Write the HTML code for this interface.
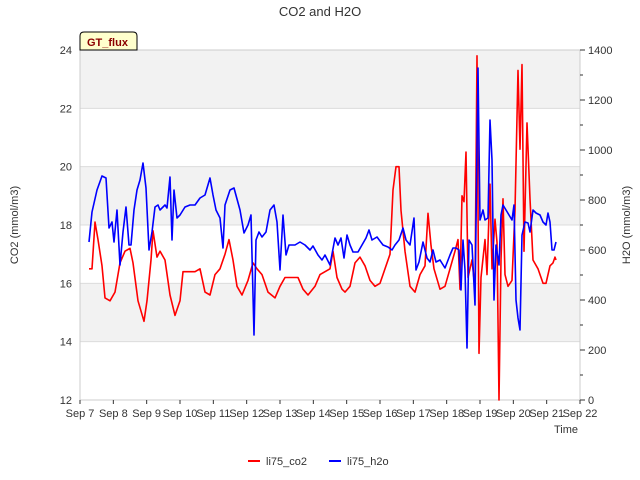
<!DOCTYPE html>
<html><head><meta charset="utf-8"><style>
body{margin:0;background:#fff;}
svg{display:block;font-family:"Liberation Sans",sans-serif;}
</style></head><body>
<svg id="chart" width="640" height="480">
<text x="320" y="16" text-anchor="middle" font-size="13" fill="#333">CO2 and H2O</text>
<g id="bands"></g>
<g id="axes"></g>
<g id="series"></g>
<g>
<path d="M80,50 L80,36 Q80,32 84,32 L133,32 Q137,32 137,36 L137,50 Z" fill="#ffffcc" stroke="#000" stroke-width="1"/>
<text x="87" y="46" font-size="11" font-weight="bold" fill="#8b0000">GT_flux</text>
</g>
<text transform="translate(18,225) rotate(-90)" text-anchor="middle" font-size="11" fill="#333">CO2 (mmol/m3)</text>
<text transform="translate(630,225) rotate(-90)" text-anchor="middle" font-size="11" fill="#333">H2O (mmol/m3)</text>
<text x="566" y="433" text-anchor="middle" font-size="11" fill="#333">Time</text>
<g><line x1="248" y1="461" x2="260" y2="461" stroke="#f00" stroke-width="2"/><text x="266" y="465" font-size="11" fill="#333">li75_co2</text></g>
<g><line x1="329" y1="461" x2="341" y2="461" stroke="#00f" stroke-width="2"/><text x="347" y="465" font-size="11" fill="#333">li75_h2o</text></g>
</svg>
<script>
const xTickLabels=["Sep 7","Sep 8","Sep 9","Sep 10","Sep 11","Sep 12","Sep 13","Sep 14","Sep 15","Sep 16","Sep 17","Sep 18","Sep 19","Sep 20","Sep 21","Sep 22"];
const yLeftTicks=[12,14,16,18,20,22,24];
const yRightTicks=[0,200,400,600,800,1000,1200,1400];
const co2Time=[7.27,7.36,7.45,7.54,7.66,7.75,7.90,8.05,8.20,8.35,8.50,8.59,8.74,8.92,9.01,9.13,9.19,9.31,9.40,9.55,9.70,9.85,10.00,10.09,10.24,10.45,10.60,10.75,10.90,11.05,11.20,11.35,11.47,11.59,11.71,11.86,12.04,12.19,12.31,12.46,12.64,12.85,13.00,13.15,13.36,13.54,13.69,13.84,14.05,14.20,14.35,14.50,14.59,14.71,14.86,14.95,15.10,15.25,15.40,15.55,15.70,15.85,16.00,16.15,16.30,16.39,16.48,16.57,16.63,16.75,16.90,17.05,17.20,17.35,17.44,17.53,17.62,17.80,17.95,18.10,18.25,18.34,18.40,18.46,18.52,18.58,18.64,18.76,18.85,18.91,18.97,19.03,19.15,19.21,19.30,19.36,19.45,19.51,19.57,19.63,19.69,19.75,19.84,19.96,20.05,20.14,20.20,20.26,20.32,20.41,20.50,20.59,20.74,20.89,20.98,21.10,21.19,21.25,21.28];
const co2Values=[16.5,16.5,18.1,17.5,16.6,15.5,15.4,15.7,16.7,17.1,17.2,16.7,15.4,14.7,15.4,16.8,17.8,16.9,17.1,16.8,15.6,14.9,15.4,16.4,16.4,16.4,16.5,15.7,15.6,16.3,16.5,17.0,17.5,16.8,15.9,15.6,16.1,16.7,16.5,16.3,15.7,15.5,15.9,16.2,16.2,16.2,15.8,15.6,15.9,16.3,16.4,16.5,17.1,16.2,15.8,15.7,15.9,16.7,16.9,16.6,16.1,15.9,16.0,16.5,17.0,19.2,20.0,20.0,18.5,17.1,15.9,15.7,16.3,16.6,18.4,17.3,16.5,15.8,15.9,16.5,17.1,17.5,15.8,19.0,18.8,20.5,16.2,16.8,15.8,23.8,13.6,16.2,17.5,16.3,19.4,16.5,18.2,17.4,12.0,16.8,18.9,16.3,15.9,16.1,18.5,23.3,20.6,23.5,17.1,21.5,18.9,16.8,16.5,16.0,16.0,16.6,16.7,16.9,16.8];
const h2oTime=[7.27,7.36,7.51,7.66,7.78,7.87,7.96,8.02,8.11,8.20,8.29,8.38,8.47,8.53,8.62,8.71,8.80,8.89,8.98,9.07,9.16,9.25,9.34,9.40,9.55,9.61,9.70,9.76,9.82,9.91,10.00,10.15,10.30,10.45,10.60,10.75,10.90,10.99,11.08,11.20,11.29,11.35,11.50,11.62,11.80,11.92,12.04,12.13,12.22,12.28,12.37,12.46,12.58,12.70,12.82,12.91,13.00,13.09,13.18,13.27,13.45,13.60,13.75,13.90,13.99,14.14,14.26,14.35,14.50,14.65,14.74,14.83,14.92,15.01,15.10,15.19,15.34,15.46,15.58,15.67,15.76,15.91,16.09,16.24,16.36,16.45,16.57,16.69,16.78,16.90,17.02,17.08,17.17,17.29,17.41,17.50,17.59,17.68,17.80,17.95,18.10,18.19,18.28,18.37,18.43,18.49,18.55,18.61,18.67,18.76,18.85,18.94,19.00,19.09,19.15,19.24,19.30,19.36,19.42,19.48,19.57,19.63,19.69,19.78,19.87,19.96,20.02,20.08,20.14,20.20,20.26,20.35,20.44,20.50,20.59,20.68,20.80,20.89,20.98,21.04,21.10,21.16,21.22,21.28];
const h2oValues=[632,752,840,896,888,688,712,632,760,540,672,772,620,620,760,840,880,948,848,600,672,772,780,760,780,768,892,640,840,728,740,772,780,780,808,820,888,820,760,728,608,780,840,848,760,668,700,740,260,640,672,652,672,760,780,712,520,740,580,620,620,632,620,600,616,580,560,580,540,648,620,648,568,660,620,592,592,620,648,680,640,652,620,612,600,620,640,688,640,620,728,520,552,632,568,552,600,552,560,528,580,608,608,600,440,640,520,208,640,620,380,1328,720,760,720,728,1120,960,400,620,540,740,780,760,740,720,780,400,328,280,660,712,708,672,760,748,740,712,700,748,712,600,600,632];

const NS="http://www.w3.org/2000/svg";
const L=80,R=580,T=50,B=400;
const xs=t=>L+(t-7)/15*(R-L);
const yl=v=>B-(v-12)/12*(B-T);
const yr=v=>B-v/1400*(B-T);
function mk(tag,attrs,parent){const e=document.createElementNS(NS,tag);for(const k in attrs)e.setAttribute(k,attrs[k]);parent.appendChild(e);return e;}
const bands=document.getElementById('bands'),axes=document.getElementById('axes'),series=document.getElementById('series');
for(let i=0;i<yLeftTicks.length-1;i++){
  if(i%2===1){const r=mk('rect',{x:L,y:yl(yLeftTicks[i+1]),width:R-L,height:yl(yLeftTicks[i])-yl(yLeftTicks[i+1]),fill:'#f2f2f2'},bands);
  
  }
}
yLeftTicks.forEach(v=>{
  const y=yl(v);
  mk('line',{x1:L,x2:R,y1:y,y2:y,stroke:'#dcdcdc','stroke-width':1},bands);
  const t=mk('text',{x:L-8,y:y+4,'text-anchor':'end','font-size':11,fill:'#333'},axes);t.textContent=v;
  
  
});
mk('rect',{x:L,y:T,width:R-L,height:B-T,fill:'none',stroke:'#ccc'},axes);
for(let v=0;v<=1400;v+=100){
  const y=yr(v);
  mk('line',{x1:R,x2:R+(v%200===0?5:3),y1:y,y2:y,stroke:'#333'},axes);
  if(v%200===0){const t=mk('text',{x:R+8,y:y+4,'font-size':11,fill:'#333'},axes);t.textContent=v;
  
  }
}
xTickLabels.forEach((s,i)=>{
  const x=xs(7+i);
  mk('line',{x1:x,x2:x,y1:B,y2:B+4,stroke:'#333'},axes);
  const t=mk('text',{x:x,y:B+17,'text-anchor':'middle','font-size':11,fill:'#333'},axes);t.textContent=s;
  
  
});
const pc=mk('polyline',{points:co2Time.map((t,i)=>xs(t).toFixed(1)+','+yl(co2Values[i]).toFixed(1)).join(' '),fill:'none',stroke:'#f00','stroke-width':1.6,'stroke-linejoin':'round'},series);


const ph=mk('polyline',{points:h2oTime.map((t,i)=>xs(t).toFixed(1)+','+yr(h2oValues[i]).toFixed(1)).join(' '),fill:'none',stroke:'#00f','stroke-width':1.6,'stroke-linejoin':'round'},series);


</script>
</body></html>
